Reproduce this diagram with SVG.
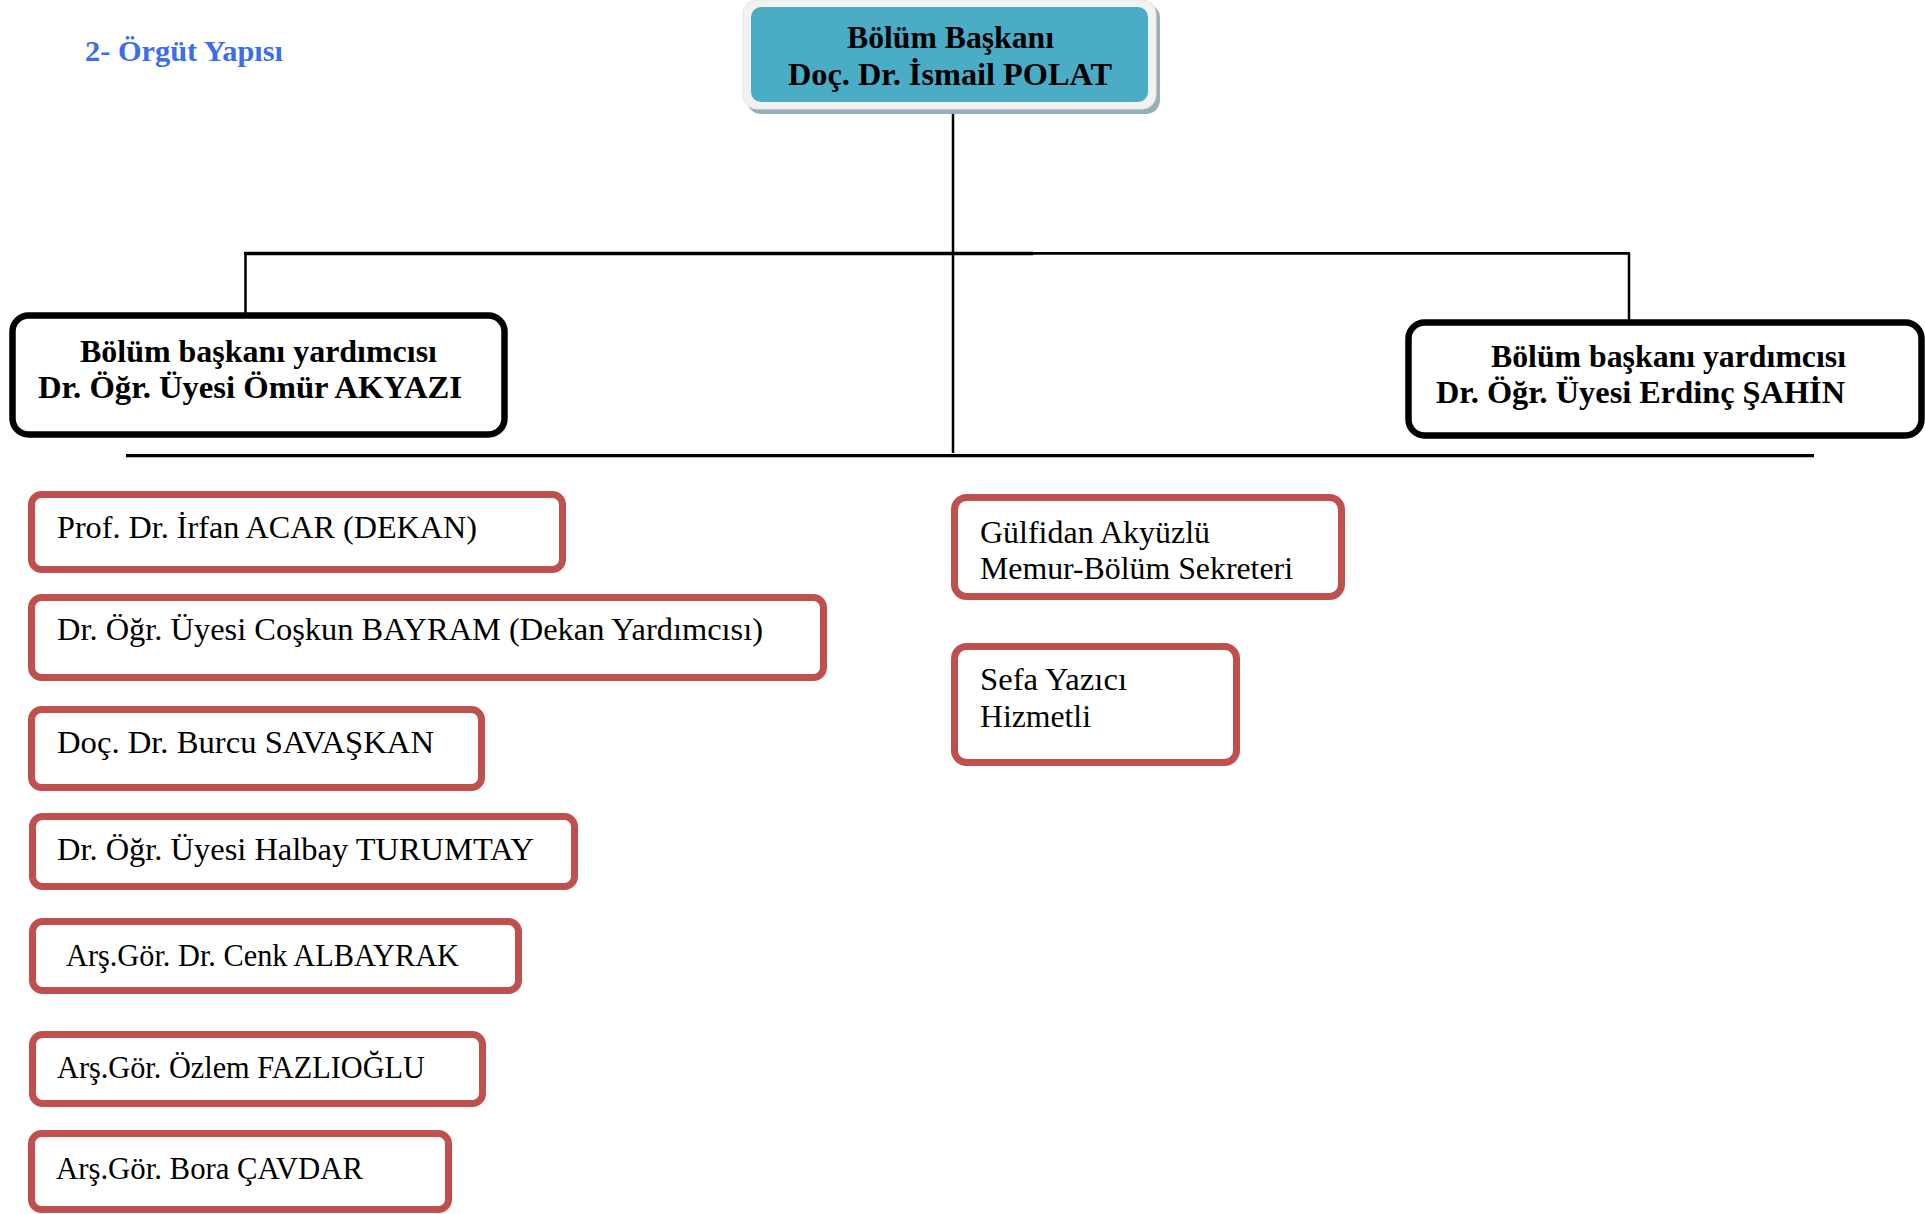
<svg xmlns="http://www.w3.org/2000/svg" width="1925" height="1214" viewBox="0 0 1925 1214">
<style>
.b{font-family:"Liberation Serif","Times New Roman",serif;font-weight:bold;font-size:31.5px;fill:#000}
.r{font-family:"Liberation Serif","Times New Roman",serif;font-size:32px;fill:#000}
.blk{fill:#fff;stroke:#000;stroke-width:6.5}
.red{fill:#fff;stroke:#c0504d;stroke-width:7}
.ln{stroke:#000;fill:none}
</style>
<rect width="1925" height="1214" fill="#fff"/>
<text id="title" x="85" y="61" font-family="Liberation Serif, serif" font-weight="bold" font-size="29" fill="#3c6cf0" textLength="198" lengthAdjust="spacingAndGlyphs">2- Örgüt Yapısı</text>
<g id="connectors">
<line class="ln" x1="953" y1="106" x2="953" y2="453" stroke-width="2.5"/>
<line class="ln" x1="244" y1="253.5" x2="1033" y2="253.5" stroke-width="3.3"/>
<line class="ln" x1="1033" y1="253.4" x2="1630" y2="253.4" stroke-width="2.7"/>
<line class="ln" x1="245.5" y1="253" x2="245.5" y2="313" stroke-width="2.5"/>
<line class="ln" x1="1629" y1="253" x2="1629" y2="320" stroke-width="2.5"/>
<line class="ln" x1="126" y1="455.7" x2="1814" y2="455.7" stroke-width="3.2"/>
</g>
<g id="n-baskan">
<rect x="747" y="4" width="413" height="110" rx="14" fill="#97afba"/>
<rect x="743" y="0" width="413" height="109" rx="14" fill="#f2f2f2" stroke="#e4e4e4" stroke-width="1"/>
<rect x="751" y="7" width="397" height="95" rx="10" fill="#4bacc6"/>
<text class="b" x="950.5" y="48" text-anchor="middle" textLength="207" lengthAdjust="spacingAndGlyphs">Bölüm Başkanı</text>
<text class="b" x="950" y="85" text-anchor="middle" textLength="324" lengthAdjust="spacingAndGlyphs">Doç. Dr. İsmail POLAT</text>
</g>
<g id="n-yrd1">
<rect class="blk" x="12.5" y="315.5" width="492" height="119" rx="16"/>
<text class="b" x="80" y="362" textLength="357" lengthAdjust="spacingAndGlyphs">Bölüm başkanı yardımcısı</text>
<text class="b" x="38" y="398" textLength="424" lengthAdjust="spacingAndGlyphs">Dr. Öğr. Üyesi Ömür AKYAZI</text>
</g>
<g id="n-yrd2">
<rect class="blk" x="1408.5" y="322.5" width="513" height="113" rx="16"/>
<text class="b" x="1491" y="367" textLength="355" lengthAdjust="spacingAndGlyphs">Bölüm başkanı yardımcısı</text>
<text class="b" x="1436" y="403" textLength="409" lengthAdjust="spacingAndGlyphs">Dr. Öğr. Üyesi Erdinç ŞAHİN</text>
</g>
<g id="n-acar">
<rect class="red" x="31.5" y="494.5" width="531" height="75" rx="10"/>
<text class="r" x="57" y="538" textLength="420" lengthAdjust="spacingAndGlyphs">Prof. Dr. İrfan ACAR (DEKAN)</text>
</g>
<g id="n-bayram">
<rect class="red" x="31.5" y="597.5" width="792" height="80" rx="10"/>
<text class="r" x="57" y="640" textLength="706" lengthAdjust="spacingAndGlyphs">Dr. Öğr. Üyesi Coşkun BAYRAM (Dekan Yardımcısı)</text>
</g>
<g id="n-savaskan">
<rect class="red" x="31.5" y="709.5" width="450" height="78" rx="10"/>
<text class="r" x="57" y="753" textLength="377" lengthAdjust="spacingAndGlyphs">Doç. Dr. Burcu SAVAŞKAN</text>
</g>
<g id="n-turumtay">
<rect class="red" x="32.5" y="816.5" width="542" height="70" rx="10"/>
<text class="r" x="57" y="860" textLength="477" lengthAdjust="spacingAndGlyphs">Dr. Öğr. Üyesi Halbay TURUMTAY</text>
</g>
<g id="n-albayrak">
<rect class="red" x="32.5" y="921.5" width="486" height="69" rx="10"/>
<text class="r" x="66" y="966" textLength="393" lengthAdjust="spacingAndGlyphs">Arş.Gör. Dr. Cenk ALBAYRAK</text>
</g>
<g id="n-fazlioglu">
<rect class="red" x="32.5" y="1034.5" width="450" height="69" rx="10"/>
<text class="r" x="57" y="1078" textLength="368" lengthAdjust="spacingAndGlyphs">Arş.Gör. Özlem FAZLIOĞLU</text>
</g>
<g id="n-cavdar">
<rect class="red" x="31.5" y="1133.5" width="417" height="76" rx="10"/>
<text class="r" x="56" y="1179" textLength="307" lengthAdjust="spacingAndGlyphs">Arş.Gör. Bora ÇAVDAR</text>
</g>
<g id="n-akyuzlu">
<rect class="red" x="954.5" y="497.5" width="387" height="99" rx="12"/>
<text class="r" x="980" y="543" textLength="230" lengthAdjust="spacingAndGlyphs">Gülfidan Akyüzlü</text>
<text class="r" x="980" y="579" textLength="313" lengthAdjust="spacingAndGlyphs">Memur-Bölüm Sekreteri</text>
</g>
<g id="n-yazici">
<rect class="red" x="954.5" y="646.5" width="282" height="116" rx="12"/>
<text class="r" x="980" y="690" textLength="147" lengthAdjust="spacingAndGlyphs">Sefa Yazıcı</text>
<text class="r" x="980" y="727" textLength="111" lengthAdjust="spacingAndGlyphs">Hizmetli</text>
</g>
</svg>
